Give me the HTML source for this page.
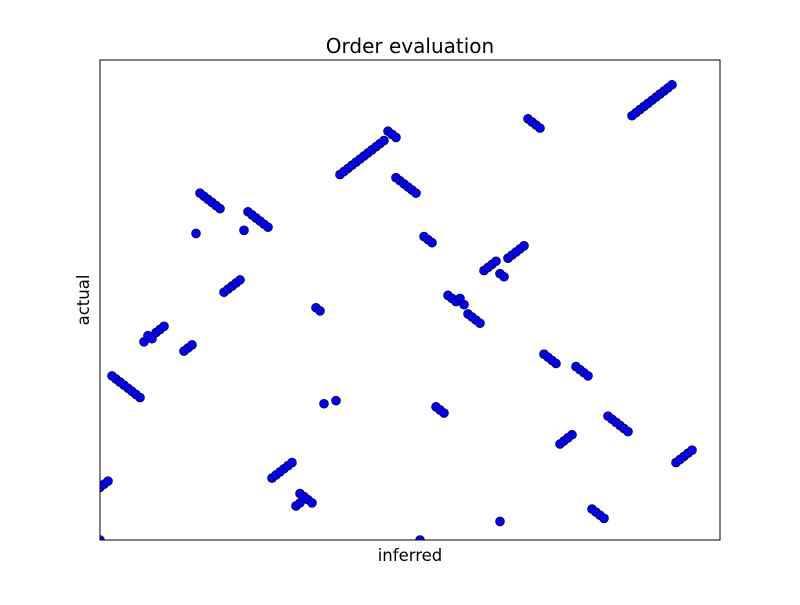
<!DOCTYPE html>
<html><head><meta charset="utf-8"><style>
body{margin:0;background:#fff}
svg text{font-family:"DejaVu Sans","Liberation Sans",sans-serif;fill:#000}
</style></head><body>
<svg id="chart" width="800" height="600">
<rect x="0" y="0" width="800" height="600" fill="#fff"/>
<text x="410" y="53" font-size="20" text-anchor="middle">Order evaluation</text>
<text x="410" y="561" font-size="16.5" text-anchor="middle">inferred</text>
<text x="0" y="0" font-size="16.5" text-anchor="middle" transform="translate(89,300) rotate(-90)">actual</text>
<defs><clipPath id="pc"><rect x="100" y="60" width="620" height="480"/></clipPath></defs>
<g id="points" clip-path="url(#pc)"></g>
<rect x="100" y="60" width="620" height="480" fill="none" stroke="#000" stroke-width="1"/>
</svg>
<script>
const inferred = [0,0,1,2,3,4,5,6,7,8,9,10,11,12,13,14,15,16,21,22,23,24,25,26,27,28,29,30,31,32,33,34,35,36,37,38,39,40,41,42,43,44,45,46,47,48,49,50,50,51,52,53,54,55,56,59,60,61,62,63,64,65,66,67,68,69,70,71,72,73,74,74,75,76,77,78,79,80,81,82,83,84,85,86,87,88,89,90,91,92,93,94,95,96,97,98,99,100,100,101,102,103,104,105,106,107,108,109,110,111,112,113,114,115,116,117,118,119,120,121,122,123,124,125,126,127,128,129,130,131,132,133,134,135,136,137,138,139,140,141,142,143,144,145,146,147,148];
const actual = [0,17,18,19,53,52,51,50,49,48,47,46,64,66,65,67,68,69,61,62,63,99,112,111,110,109,108,107,80,81,82,83,84,100,106,105,104,103,102,101,20,21,22,23,24,25,11,12,15,14,13,12,75,74,44,45,118,119,120,121,122,123,124,125,126,127,128,129,132,131,130,117,116,115,114,113,112,0,98,97,96,43,42,41,79,78,77,78,76,73,72,71,70,87,88,89,90,6,86,85,91,92,93,94,95,136,135,134,133,60,59,58,57,31,32,33,34,56,55,54,53,10,9,8,7,40,39,38,37,36,35,137,138,139,140,141,142,143,144,145,146,147,25,26,27,28,29];
const xDomain = [0,155], yDomain = [0,155];
function xs(v){return 100 + (v - xDomain[0]) / (xDomain[1]-xDomain[0]) * 620;}
function ys(v){return 540 - (v - yDomain[0]) / (yDomain[1]-yDomain[0]) * 480;}
const g = document.getElementById('points');
const NS = 'http://www.w3.org/2000/svg';
for (let i = 0; i < inferred.length; i++) {
  const c = document.createElementNS(NS, 'circle');
  c.setAttribute('cx', xs(inferred[i]));
  c.setAttribute('cy', ys(actual[i]));
  c.setAttribute('r', 4.5);
  c.setAttribute('fill', '#0000ff');
  c.setAttribute('stroke', '#000');
  c.setAttribute('stroke-width', 0.6);
  
  
  g.appendChild(c);
}
</script>
</body></html>
